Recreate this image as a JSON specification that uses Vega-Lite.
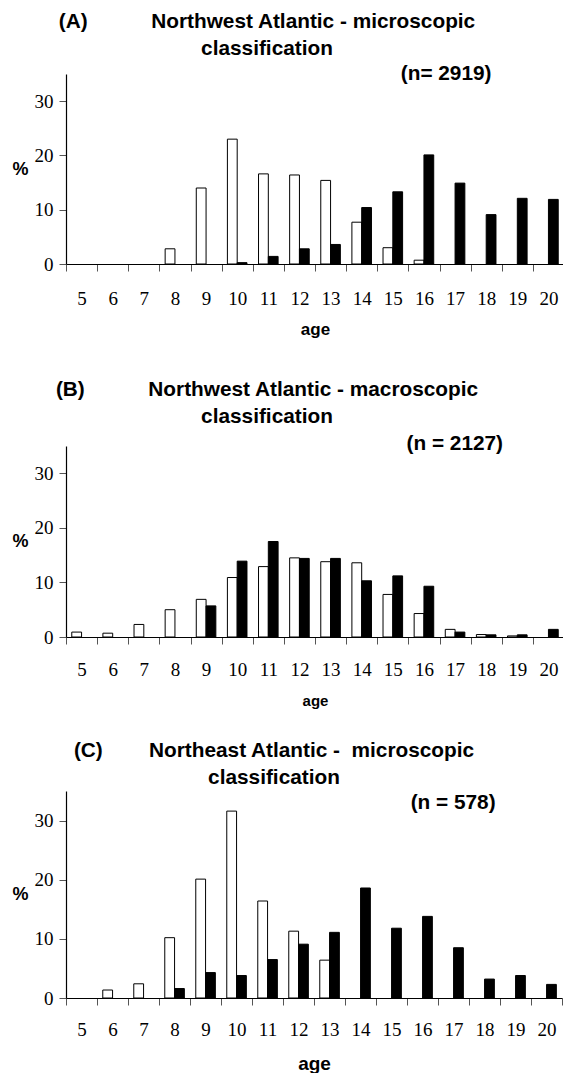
{
  "$schema": "https://vega.github.io/schema/vega-lite/v6.json",
  "padding": {"left": 11, "right": 0, "top": 11, "bottom": 0},
  "spacing": 42,
  "datasets": {
    "A": [
      {"age": 8, "series": "open", "pct": 2.8},
      {"age": 9, "series": "open", "pct": 14.0},
      {"age": 10, "series": "open", "pct": 23.0},
      {"age": 10, "series": "filled", "pct": 0.25},
      {"age": 11, "series": "open", "pct": 16.6},
      {"age": 11, "series": "filled", "pct": 1.4},
      {"age": 12, "series": "open", "pct": 16.4},
      {"age": 12, "series": "filled", "pct": 2.8},
      {"age": 13, "series": "open", "pct": 15.4},
      {"age": 13, "series": "filled", "pct": 3.6},
      {"age": 14, "series": "open", "pct": 7.7},
      {"age": 14, "series": "filled", "pct": 10.4},
      {"age": 15, "series": "open", "pct": 3.0},
      {"age": 15, "series": "filled", "pct": 13.3},
      {"age": 16, "series": "open", "pct": 0.7},
      {"age": 16, "series": "filled", "pct": 20.1},
      {"age": 17, "series": "filled", "pct": 14.9},
      {"age": 18, "series": "filled", "pct": 9.1},
      {"age": 19, "series": "filled", "pct": 12.1},
      {"age": 20, "series": "filled", "pct": 11.9}
    ],
    "B": [
      {"age": 5, "series": "open", "pct": 0.9},
      {"age": 6, "series": "open", "pct": 0.7},
      {"age": 7, "series": "open", "pct": 2.3},
      {"age": 8, "series": "open", "pct": 5.0},
      {"age": 9, "series": "open", "pct": 6.9},
      {"age": 9, "series": "filled", "pct": 5.7},
      {"age": 10, "series": "open", "pct": 10.9},
      {"age": 10, "series": "filled", "pct": 13.9},
      {"age": 11, "series": "open", "pct": 12.9},
      {"age": 11, "series": "filled", "pct": 17.5},
      {"age": 12, "series": "open", "pct": 14.5},
      {"age": 12, "series": "filled", "pct": 14.4},
      {"age": 13, "series": "open", "pct": 13.8},
      {"age": 13, "series": "filled", "pct": 14.4},
      {"age": 14, "series": "open", "pct": 13.6},
      {"age": 14, "series": "filled", "pct": 10.3},
      {"age": 15, "series": "open", "pct": 7.8},
      {"age": 15, "series": "filled", "pct": 11.2},
      {"age": 16, "series": "open", "pct": 4.3},
      {"age": 16, "series": "filled", "pct": 9.3},
      {"age": 17, "series": "open", "pct": 1.4},
      {"age": 17, "series": "filled", "pct": 0.9},
      {"age": 18, "series": "open", "pct": 0.45},
      {"age": 18, "series": "filled", "pct": 0.4},
      {"age": 19, "series": "open", "pct": 0.2},
      {"age": 19, "series": "filled", "pct": 0.4},
      {"age": 20, "series": "filled", "pct": 1.4}
    ],
    "C": [
      {"age": 6, "series": "open", "pct": 1.35},
      {"age": 7, "series": "open", "pct": 2.4},
      {"age": 8, "series": "open", "pct": 10.2},
      {"age": 8, "series": "filled", "pct": 1.6},
      {"age": 9, "series": "open", "pct": 20.1},
      {"age": 9, "series": "filled", "pct": 4.3},
      {"age": 10, "series": "open", "pct": 31.6},
      {"age": 10, "series": "filled", "pct": 3.8},
      {"age": 11, "series": "open", "pct": 16.4},
      {"age": 11, "series": "filled", "pct": 6.5},
      {"age": 12, "series": "open", "pct": 11.3},
      {"age": 12, "series": "filled", "pct": 9.1},
      {"age": 13, "series": "open", "pct": 6.4},
      {"age": 13, "series": "filled", "pct": 11.1},
      {"age": 14, "series": "filled", "pct": 18.6},
      {"age": 15, "series": "filled", "pct": 11.8},
      {"age": 16, "series": "filled", "pct": 13.8},
      {"age": 17, "series": "filled", "pct": 8.5},
      {"age": 18, "series": "filled", "pct": 3.2},
      {"age": 19, "series": "filled", "pct": 3.8},
      {"age": 20, "series": "filled", "pct": 2.3}
    ]
  },
  "config": {
    "view": {"stroke": null},
    "axis": {
      "labelFont": "Liberation Serif",
      "labelFontSize": 19,
      "labelColor": "black",
      "titleFont": "Liberation Sans",
      "titleFontWeight": "bold",
      "titleColor": "black",
      "domainColor": "black",
      "domainWidth": 1.2,
      "tickColor": "#555555",
      "tickSize": 7,
      "grid": false
    },
    "axisX": {"tickBand": "extent", "labelAngle": 0, "labelPadding": 16, "titlePadding": 15, "titleFontSize": 17},
    "axisY": {"titleAngle": 0, "titleAlign": "right", "titleBaseline": "middle", "titleFontSize": 18, "labelPadding": 6, "titlePadding": 6},
    "title": {
      "font": "Liberation Sans",
      "fontSize": 20.8,
      "fontWeight": "bold",
      "color": "black",
      "lineHeight": 27,
      "anchor": "middle",
      "dx": -48,
      "subtitleFont": "Liberation Sans",
      "subtitleFontSize": 20.8,
      "subtitleFontWeight": "bold",
      "subtitleColor": "black",
      "subtitlePadding": 4
    },
    "bar": {"stroke": "black", "strokeWidth": 1}
  },
  "vconcat": [
    {
      "data": {"name": "A"},
      "width": 498,
      "height": 190,
      "title": {
        "text": ["(A)\u00a0\u00a0\u00a0\u00a0\u00a0\u00a0\u00a0\u00a0\u00a0\u00a0\u00a0Northwest Atlantic - microscopic", "classification"],
        "subtitle": "\u200b\u00a0\u00a0\u00a0\u00a0\u00a0\u00a0\u00a0\u00a0\u00a0\u00a0\u00a0\u00a0\u00a0\u00a0\u00a0\u00a0\u00a0\u00a0\u00a0\u00a0\u00a0\u00a0\u00a0\u00a0\u00a0\u00a0\u00a0\u00a0\u00a0\u00a0\u00a0\u00a0\u00a0\u00a0\u00a0\u00a0\u00a0\u00a0\u00a0\u00a0\u00a0\u00a0\u00a0\u00a0\u00a0\u00a0\u00a0\u00a0\u00a0\u00a0\u00a0\u00a0\u00a0\u00a0\u00a0\u00a0\u00a0\u00a0\u00a0\u00a0\u00a0\u00a0(n= 2919)",
        "offset": -11
      },
      "mark": {"type": "bar"},
      "encoding": {
        "x": {"field": "age", "type": "ordinal", "scale": {"domain": [5, 6, 7, 8, 9, 10, 11, 12, 13, 14, 15, 16, 17, 18, 19, 20], "paddingInner": 0, "paddingOuter": 0}, "axis": {"title": "age", "labelPadding": 18, "titlePadding": 13}},
        "xOffset": {"field": "series", "type": "nominal", "scale": {"domain": ["open", "filled"], "paddingInner": 0, "paddingOuter": 0.59}},
        "y": {"field": "pct", "type": "quantitative", "scale": {"domain": [0, 35]}, "axis": {"title": "%", "values": [0, 10, 20, 30]}},
        "color": {"field": "series", "type": "nominal", "scale": {"domain": ["open", "filled"], "range": ["white", "black"]}, "legend": null}
      }
    },
    {
      "spacing": 32,
      "vconcat": [
        {
          "data": {"name": "B"},
          "width": 498,
          "height": 191,
          "title": {
            "text": ["(B)\u00a0\u00a0\u00a0\u00a0\u00a0\u00a0\u00a0\u00a0\u00a0\u00a0\u00a0Northwest Atlantic - macroscopic", "classification"],
            "subtitle": "\u200b\u00a0\u00a0\u00a0\u00a0\u00a0\u00a0\u00a0\u00a0\u00a0\u00a0\u00a0\u00a0\u00a0\u00a0\u00a0\u00a0\u00a0\u00a0\u00a0\u00a0\u00a0\u00a0\u00a0\u00a0\u00a0\u00a0\u00a0\u00a0\u00a0\u00a0\u00a0\u00a0\u00a0\u00a0\u00a0\u00a0\u00a0\u00a0\u00a0\u00a0\u00a0\u00a0\u00a0\u00a0\u00a0\u00a0\u00a0\u00a0\u00a0\u00a0\u00a0\u00a0\u00a0\u00a0\u00a0\u00a0\u00a0\u00a0\u00a0\u00a0\u00a0\u00a0\u00a0\u00a0\u00a0(n = 2127)",
            "subtitlePadding": 6,
            "offset": -9
          },
          "mark": {"type": "bar"},
          "encoding": {
            "x": {"field": "age", "type": "ordinal", "scale": {"domain": [5, 6, 7, 8, 9, 10, 11, 12, 13, 14, 15, 16, 17, 18, 19, 20], "paddingInner": 0, "paddingOuter": 0}, "axis": {"title": "age", "titleFontSize": 15, "labelPadding": 16, "titlePadding": 14}},
            "xOffset": {"field": "series", "type": "nominal", "scale": {"domain": ["open", "filled"], "paddingInner": 0, "paddingOuter": 0.59}},
            "y": {"field": "pct", "type": "quantitative", "scale": {"domain": [0, 35]}, "axis": {"title": "%", "values": [0, 10, 20, 30]}},
            "color": {"field": "series", "type": "nominal", "scale": {"domain": ["open", "filled"], "range": ["white", "black"]}, "legend": null}
          }
        },
        {
          "data": {"name": "C"},
          "width": 496,
          "height": 207,
          "title": {
            "text": ["(C)\u00a0\u00a0\u00a0\u00a0\u00a0\u00a0\u00a0\u00a0Northeast Atlantic -\u00a0 microscopic", "classification"],
            "subtitle": "\u200b\u00a0\u00a0\u00a0\u00a0\u00a0\u00a0\u00a0\u00a0\u00a0\u00a0\u00a0\u00a0\u00a0\u00a0\u00a0\u00a0\u00a0\u00a0\u00a0\u00a0\u00a0\u00a0\u00a0\u00a0\u00a0\u00a0\u00a0\u00a0\u00a0\u00a0\u00a0\u00a0\u00a0\u00a0\u00a0\u00a0\u00a0\u00a0\u00a0\u00a0\u00a0\u00a0\u00a0\u00a0\u00a0\u00a0\u00a0\u00a0\u00a0\u00a0\u00a0\u00a0\u00a0\u00a0\u00a0\u00a0\u00a0\u00a0\u00a0\u00a0\u00a0\u00a0(n = 578)",
            "offset": -23,
            "dx": -40
          },
          "mark": {"type": "bar"},
          "encoding": {
            "x": {"field": "age", "type": "ordinal", "scale": {"domain": [5, 6, 7, 8, 9, 10, 11, 12, 13, 14, 15, 16, 17, 18, 19, 20], "paddingInner": 0, "paddingOuter": 0}, "axis": {"title": "age", "titleFontSize": 19, "labelPadding": 15, "titlePadding": 15}},
            "xOffset": {"field": "series", "type": "nominal", "scale": {"domain": ["open", "filled"], "paddingInner": 0, "paddingOuter": 0.59}},
            "y": {"field": "pct", "type": "quantitative", "scale": {"domain": [0, 35]}, "axis": {"title": "%", "values": [0, 10, 20, 30]}},
            "color": {"field": "series", "type": "nominal", "scale": {"domain": ["open", "filled"], "range": ["white", "black"]}, "legend": null}
          }
        }
      ]
    }
  ]
}
